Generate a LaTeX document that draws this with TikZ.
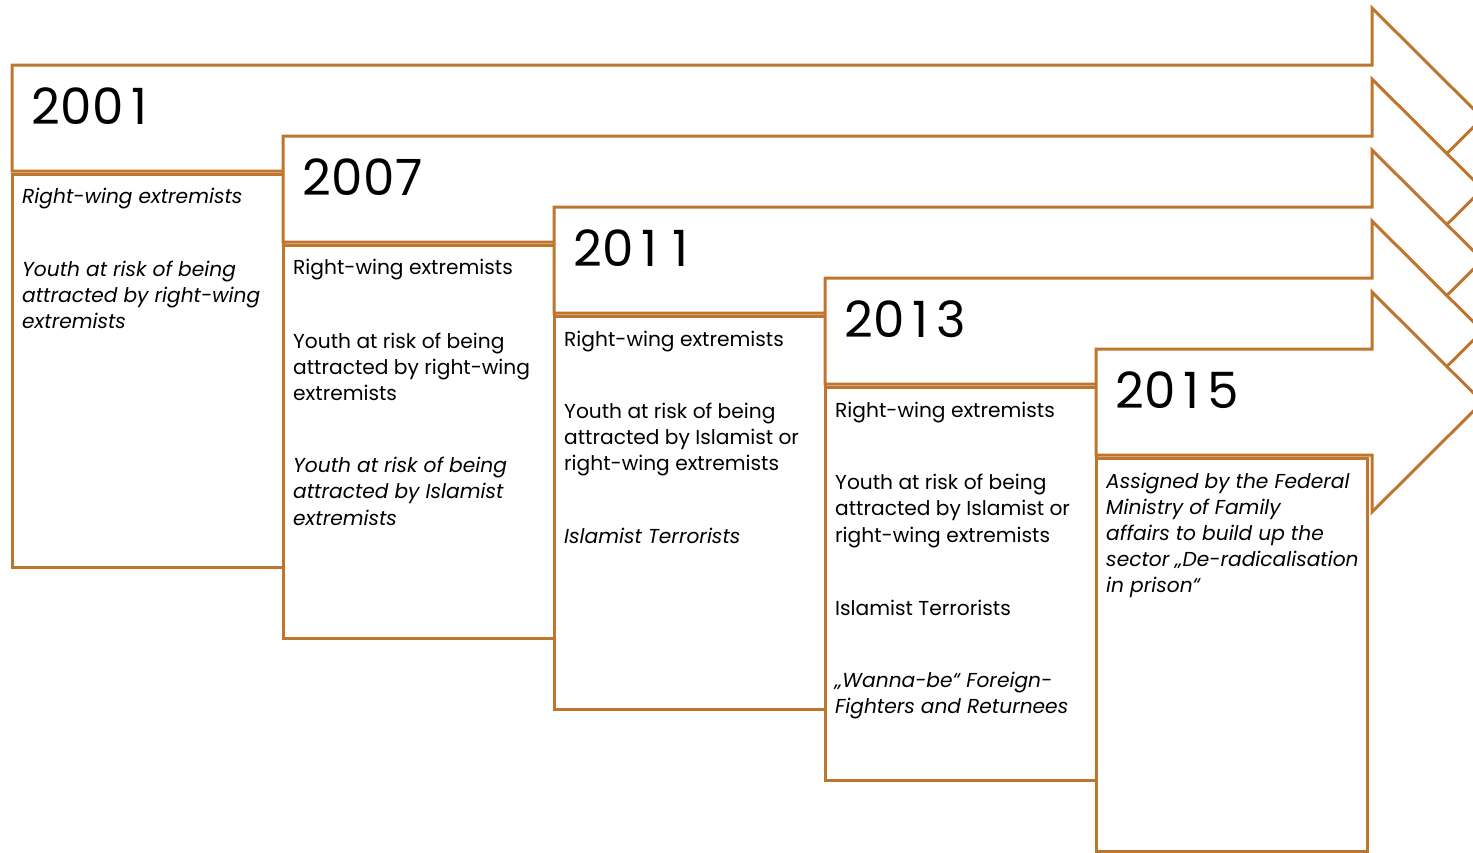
\documentclass[tikz,border=0pt]{standalone}
\usepackage{fontspec}
\setmainfont{Poppins}
\newfontfamily\yearfont[LetterSpace=1]{Poppins}
\newlength\digw
\newcommand\onedig{\makebox[\digw]{1}}
\definecolor{brn}{RGB}{190,118,46}
\begin{document}
\begin{tikzpicture}[x=1pt,y=-1pt,
  frame/.style={draw=brn,line width=3pt,fill=white,line join=miter},
  yr/.style={anchor=base west,inner sep=0pt,font=\yearfont\fontsize{50}{60}\selectfont\settowidth{\digw}{0}},
  ln/.style={anchor=base west,inner sep=0pt,font=\fontsize{20.2}{26}\selectfont},
  il/.style={ln,font=\fontsize{20.2}{26}\selectfont\itshape}]
\useasboundingbox (0,0) rectangle (1473,852);
\clip (0,0) rectangle (1473,852);
% arrows and boxes
\foreach \k in {0,...,4}{
  \pgfmathsetmacro{\L}{12+271*\k}
  \pgfmathsetmacro{\T}{65+71*\k}
  \pgfmathsetmacro{\B}{\T+106}
  \pgfmathsetmacro{\C}{\T+53}
  \pgfmathsetmacro{\HT}{\T-57}
  \pgfmathsetmacro{\HB}{\B+57}
  \pgfmathsetmacro{\BT}{\B+3.5}
  \pgfmathsetmacro{\BB}{567+71*\k}
  \pgfmathsetmacro{\R}{ifthenelse(\k==4,1367.5,\L+271)}
  \draw[frame] (\L,\T) -- (1372,\T) -- (1372,\HT) -- (1482.5,\C) -- (1372,\HB) -- (1372,\B) -- (\L,\B) -- cycle;
  \draw[frame] (\L,\BT) rectangle (\R,\BB);
}
% years
\node[yr] (y1) at (31,124) {200\onedig};
\node[yr] (y2) at (302,195) {2007};
\node[yr] (y3) at (573,266) {20\onedig\onedig};
\node[yr] (y4) at (844,337) {20\onedig3};
\node[yr] (y5) at (1115,408) {20\onedig5};
% 2001
\node[il] (a1) at (22,203) {Right-wing extremists};
\node[il] (a2) at (22,276) {Youth at risk of being};
\node[il] (a3) at (22,302) {attracted by right-wing};
\node[il] (a4) at (22,328) {extremists};
% 2007
\node[ln] (b1) at (293,274) {Right-wing extremists};
\node[ln] (b2) at (293,348) {Youth at risk of being};
\node[ln] (b3) at (293,374) {attracted by right-wing};
\node[ln] (b4) at (293,400) {extremists};
\node[il] (b5) at (293,472) {Youth at risk of being};
\node[il] (b6) at (293,498) {attracted by Islamist};
\node[il] (b7) at (293,525) {extremists};
% 2011
\node[ln] (c1) at (564,346) {Right-wing extremists};
\node[ln] (c2) at (564,418) {Youth at risk of being};
\node[ln] (c3) at (564,444) {attracted by Islamist or};
\node[ln] (c4) at (564,470) {right-wing extremists};
\node[il] (c5) at (564,543) {Islamist Terrorists};
% 2013
\node[ln] (d1) at (835,417) {Right-wing extremists};
\node[ln] (d2) at (835,489) {Youth at risk of being};
\node[ln] (d3) at (835,515) {attracted by Islamist or};
\node[ln] (d4) at (835,542) {right-wing extremists};
\node[ln] (d5) at (835,615) {Islamist Terrorists};
\node[il] (d6) at (835,687) {„Wanna-be“ Foreign-};
\node[il] (d7) at (835,713) {Fighters and Returnees};
% 2015
\node[il] (e1) at (1106,488) {Assigned by the Federal};
\node[il] (e2) at (1106,514) {Ministry of Family};
\node[il] (e3) at (1106,540) {affairs to build up the};
\node[il] (e4) at (1106,566) {sector „De-radicalisation};
\node[il] (e5) at (1106,592) {in prison“};
\end{tikzpicture}
\end{document}
